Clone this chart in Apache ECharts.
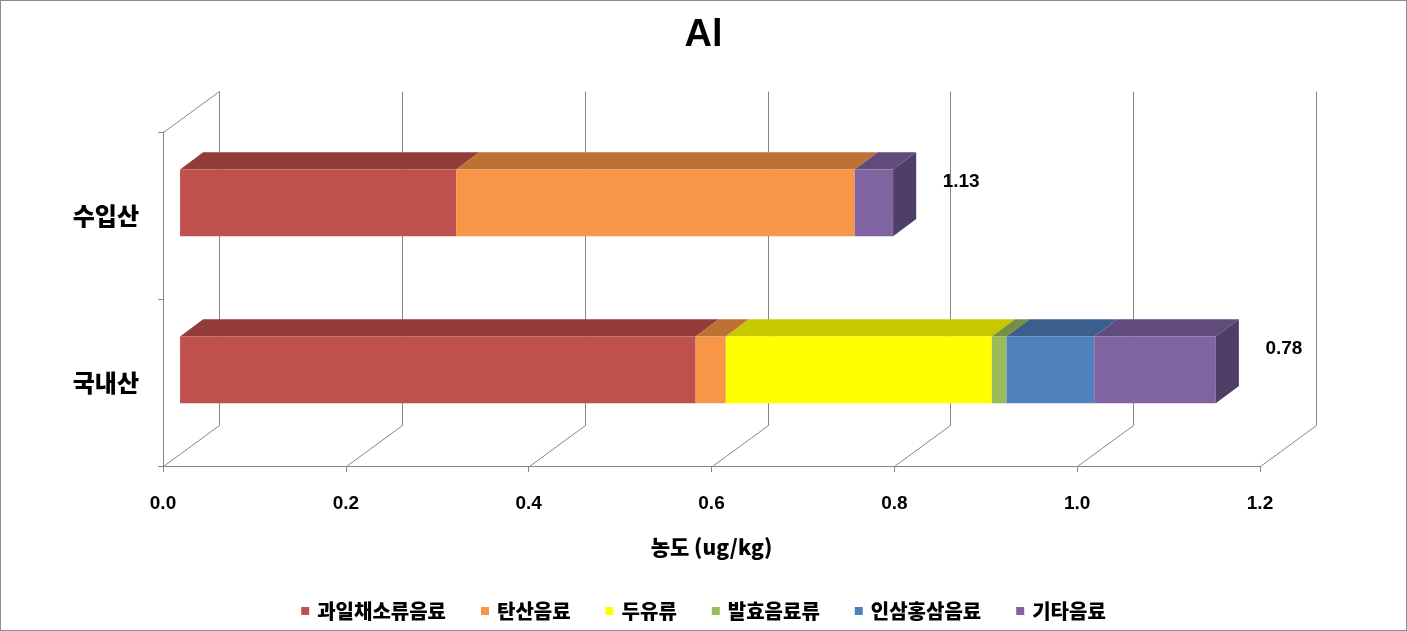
<!DOCTYPE html>
<html>
<head>
<meta charset="utf-8">
<script src="https://cdn.jsdelivr.net/npm/echarts@6/dist/echarts.min.js"></script>
<style>
html, body { margin: 0; padding: 0; background: #fff; }
#wrap { position: relative; width: 1407px; height: 631px; }
#chart { width: 1407px; height: 631px; }
#border { position: absolute; left: 0; top: 0; width: 1405px; height: 629px; border: 1px solid #8c8c8c; pointer-events: none; }
</style>
</head>
<body>
<div id="wrap">
  <div id="chart"></div>
  <div id="border"></div>
</div>
<script>
// 데이터
const categories = ['국내산', '수입산'];
const seriesNames = ['과일채소류음료', '탄산음료', '두유류', '발효음료류', '인삼홍삼음료', '기타음료'];
const fruitVeg = [0.564, 0.302];
const soda = [0.033, 0.436];
const soyMilk = [0.291, 0];
const fermented = [0.016, 0];
const ginseng = [0.096, 0];
const others = [0.133, 0.042];
const totalLabels = ['0.78', '1.13'];
const xTicks = [0, 0.2, 0.4, 0.6, 0.8, 1.0, 1.2];

const allValues = [fruitVeg, soda, soyMilk, fermented, ginseng, others];

// 색상
const frontColors = ['#C0504D', '#F79646', '#FFFF00', '#9BBB59', '#4F81BD', '#8064A2'];
const topColors = ['#923B39', '#BD7234', '#C8C800', '#76903F', '#3A5F8C', '#614B7C'];
const sideColor = '#4F3E67';
const gray = '#868686';
const krFont = '"Noto Sans CJK KR", sans-serif';
const numFont = '"Liberation Sans", Arial, sans-serif';

// 3D 깊이
const DX = 55, DY = -41;
const F1 = 0.31, F2 = 0.73;
const BAR = 0.40;

function px (v) {
  return Math.round(v) + 0.5
}

// 뒷벽, 바닥 선
function renderFrame (params, api) {
  const c0 = api.coord([api.value(0), 0]);
  const band = api.size([0, 1])[1];
  const x = px(c0[0]);
  const bottom = c0[1] + band / 2;
  const top = bottom - band * categories.length;
  const style = { stroke: gray, lineWidth: 1, fill: null };
  const children = [
    { type: 'line', shape: { x1: x, y1: px(bottom), x2: px(x + DX), y2: px(bottom + DY) }, style },
    { type: 'line', shape: { x1: px(x + DX), y1: px(bottom + DY), x2: px(x + DX), y2: px(top + DY) }, style }
  ];
  if (params.dataIndex === 0) {
    children.push({ type: 'line', shape: { x1: x, y1: px(top), x2: px(x + DX), y2: px(top + DY) }, style });
  }
  return { type: 'group', children };
}

function barSeries (i) {
  const data = categories.map((c, j) => {
    let base = 0;
    for (let k = 0; k < i; k++) base += allValues[k][j];
    return [base, base + allValues[i][j], j];
  });
  const isLast = i === allValues.length - 1;
  return {
    name: seriesNames[i],
    type: 'custom',
    clip: false,
    z: 3,
    itemStyle: { color: frontColors[i] },
    data: data,
    renderItem (params, api) {
      if (api.value(1) - api.value(0) <= 0) return null;
      const p0 = api.coord([api.value(0), api.value(2)]);
      const p1 = api.coord([api.value(1), api.value(2)]);
      const h = api.size([0, 1])[1] * BAR;
      const fx = DX * F1, fy = DY * F1;
      const ddx = DX * (F2 - F1), ddy = DY * (F2 - F1);
      const x0 = p0[0] + fx, x1 = p1[0] + fx;
      const yT = p0[1] + fy - h / 2, yB = yT + h;
      const children = [
        { type: 'polygon', shape: { points: [[x0, yT], [x1, yT], [x1 + ddx, yT + ddy], [x0 + ddx, yT + ddy]] }, style: { fill: topColors[i] } },
        { type: 'rect', shape: { x: x0, y: yT, width: x1 - x0, height: h }, style: { fill: frontColors[i] } }
      ];
      if (isLast) {
        children.push({ type: 'polygon', shape: { points: [[x1, yT], [x1 + ddx, yT + ddy], [x1 + ddx, yB + ddy], [x1, yB]] }, style: { fill: sideColor } });
      }
      return { type: 'group', children };
    }
  };
}

const totals = categories.map((c, j) => allValues.reduce((s, arr) => s + arr[j], 0));

const series = [
  {
    type: 'custom',
    name: 'frame',
    clip: false,
    silent: true,
    z: 1,
    data: xTicks.map(v => [v]),
    renderItem: renderFrame
  }
];
allValues.forEach((arr, i) => series.push(barSeries(i)));
// 합계 라벨
series.push({
  type: 'custom',
  name: 'labels',
  clip: false,
  silent: true,
  z: 4,
  data: totals.map((t, j) => [t, j]),
  renderItem (params, api) {
    const p = api.coord([api.value(0), api.value(1)]);
    return {
      type: 'text',
      style: {
        text: totalLabels[params.dataIndex],
        x: p[0] + DX * F2 + 45,
        y: p[1] + DY * F1 - 21,
        align: 'center',
        verticalAlign: 'middle',
        fill: '#000',
        font: 'bold 19px ' + numFont
      }
    };
  }
});

const option = {
  animation: false,
  backgroundColor: '#fff',
  title: {
    text: 'Al',
    left: 'center',
    top: 12,
    textStyle: { fontSize: 38, fontWeight: 'bold', color: '#000', fontFamily: numFont }
  },
  legend: {
    data: seriesNames,
    top: 596,
    left: 'center',
    icon: 'rect',
    itemWidth: 8,
    itemHeight: 8,
    itemGap: 35,
    textStyle: { fontSize: 20, fontWeight: 900, color: '#000', fontFamily: krFont, padding: [0, 0, 0, 3] }
  },
  grid: { left: 163, right: 147, top: 132, bottom: 165 },
  xAxis: {
    type: 'value',
    min: 0,
    max: 1.2,
    interval: 0.2,
    name: '농도 (ug/kg)',
    nameLocation: 'middle',
    nameGap: 71,
    nameTextStyle: { fontSize: 21, fontWeight: 900, color: '#000', fontFamily: krFont },
    axisLine: { show: true, lineStyle: { color: gray } },
    axisTick: { show: true, length: 6, lineStyle: { color: gray } },
    splitLine: { show: false },
    axisLabel: {
      margin: 28,
      fontSize: 19,
      fontWeight: 'bold',
      color: '#000',
      fontFamily: numFont,
      formatter: v => v.toFixed(1)
    }
  },
  yAxis: {
    type: 'category',
    data: categories,
    axisLine: { show: true, lineStyle: { color: gray } },
    axisTick: { show: true, length: 5, lineStyle: { color: gray } },
    splitLine: { show: false },
    axisLabel: {
      margin: 24,
      fontSize: 24,
      fontWeight: 900,
      color: '#000',
      fontFamily: krFont,
      padding: [5, 0, 0, 0]
    }
  },
  series: series
};

echarts.init(document.getElementById('chart')).setOption(option);
</script>
</body>
</html>
